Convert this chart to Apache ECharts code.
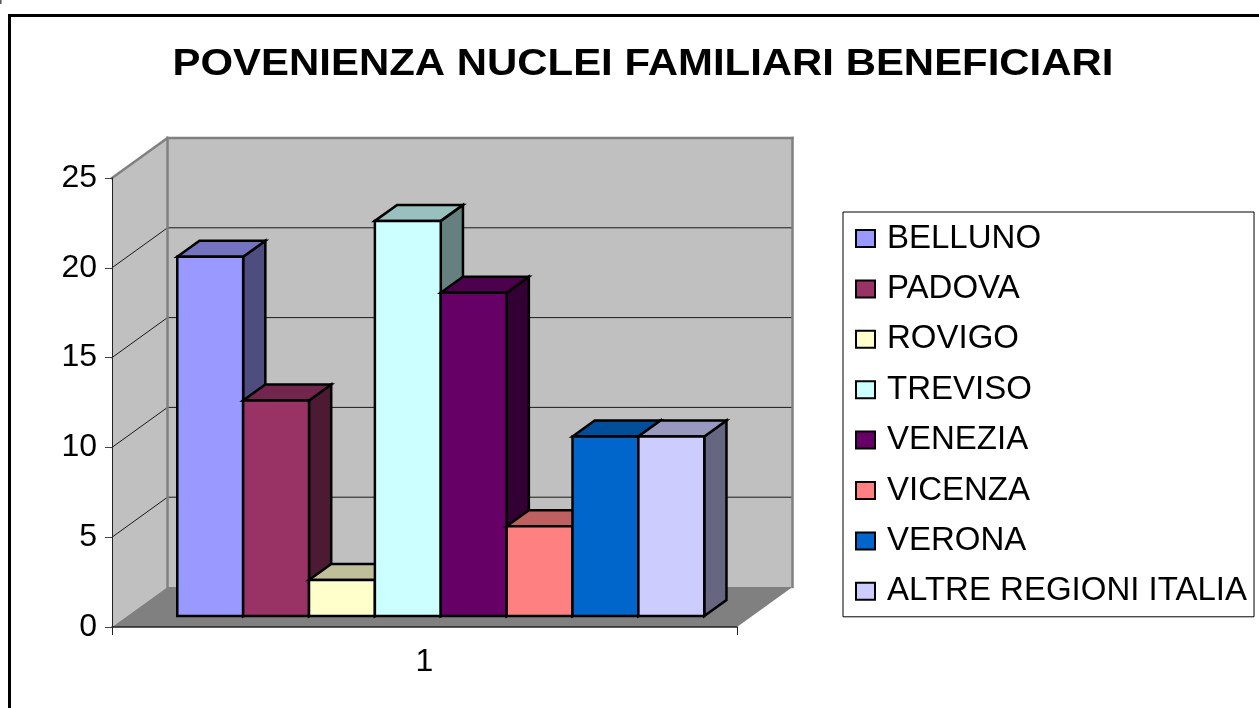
<!DOCTYPE html>
<html>
<head>
<meta charset="utf-8">
<style>html,body{margin:0;padding:0;background:#fff}#c{width:1259px;height:708px}</style>
<script src="https://cdn.jsdelivr.net/npm/echarts@6/dist/echarts.min.js"></script>
</head>
<body>
<div id="c"></div>
<script>
var titleText = 'POVENIENZA NUCLEI FAMILIARI BENEFICIARI';
var categories = ['1'];
var yTicks = [0, 5, 10, 15, 20, 25];
var seriesNames = ['BELLUNO', 'PADOVA', 'ROVIGO', 'TREVISO', 'VENEZIA', 'VICENZA', 'VERONA', 'ALTRE REGIONI ITALIA'];
var seriesValues = [20, 12, 2, 22, 18, 5, 10, 10];
var seriesColors = ['#9999FF', '#993366', '#FFFFCC', '#CCFFFF', '#660066', '#FF8080', '#0066CC', '#CCCCFF'];

var DEPTH_X = 55.5, DEPTH_Y = 40;
var FONT = '"Liberation Sans", Arial, sans-serif';
var BAR_START = 0.08, BAR_SLOT = 0.1054, BAR_D0 = 0.275, BAR_D1 = 0.675;

function shade(hex, f) {
  var n = parseInt(hex.slice(1), 16);
  var r = Math.round((n >> 16 & 255) * f), g = Math.round((n >> 8 & 255) * f), b = Math.round((n & 255) * f);
  return 'rgb(' + r + ',' + g + ',' + b + ')';
}
function projector(api) {
  var c = api.coord([0, 0]);
  var W = api.size([1, 0])[0];
  var left = c[0] - W / 2;
  return function (u, v, d) {
    return [left + u * W + d * DEPTH_X, api.coord([0, v])[1] - d * DEPTH_Y];
  };
}
function poly(points, fill, stroke, lw) {
  return { type: 'polygon', shape: { points: points },
    style: { fill: fill, stroke: stroke || null, lineWidth: lw || 0, lineJoin: 'miter' } };
}
function seg(a, b, color, lw) {
  return { type: 'line', shape: { x1: a[0], y1: a[1], x2: b[0], y2: b[1] },
    style: { stroke: color, lineWidth: lw, lineCap: 'square' } };
}
function renderWalls(params, api) {
  var p = projector(api), top = yTicks[yTicks.length - 1], kids = [];
  kids.push(poly([p(0, 0, 0), p(0, top, 0), p(0, top, 1), p(0, 0, 1)], '#C0C0C0'));
  kids.push(poly([p(0, 0, 1), p(0, top, 1), p(1, top, 1), p(1, 0, 1)], '#C0C0C0'));
  kids.push(poly([p(0, 0, 0), p(1, 0, 0), p(1, 0, 1), p(0, 0, 1)], '#808080'));
  yTicks.slice(1, -1).forEach(function (t) {
    kids.push(seg(p(0, t, 0), p(0, t, 1), '#1a1a1a', 1));
    kids.push(seg(p(0, t, 1), p(1, t, 1), '#1a1a1a', 1));
  });
  kids.push(seg(p(0, top, 0), p(0, top, 1), '#808080', 2.5));
  kids.push(seg(p(0, top, 1), p(1, top, 1), '#808080', 2.5));
  kids.push(seg(p(0, 0, 1), p(0, top, 1), '#808080', 2.5));
  kids.push(seg(p(1, 0, 1), p(1, top, 1), '#808080', 2.5));
  return { type: 'group', children: kids };
}
function barRenderer(i) {
  return function (params, api) {
    var p = projector(api), v = api.value(1), col = seriesColors[i];
    var u0 = BAR_START + i * BAR_SLOT, u1 = u0 + BAR_SLOT;
    return { type: 'group', children: [
      poly([p(u1, 0, BAR_D0), p(u1, 0, BAR_D1), p(u1, v, BAR_D1), p(u1, v, BAR_D0)], shade(col, 0.5), '#000', 2.5),
      poly([p(u0, v, BAR_D0), p(u0, v, BAR_D1), p(u1, v, BAR_D1), p(u1, v, BAR_D0)], shade(col, 0.75), '#000', 2.5),
      poly([p(u0, 0, BAR_D0), p(u1, 0, BAR_D0), p(u1, v, BAR_D0), p(u0, v, BAR_D0)], col, '#000', 2.5)
    ] };
  };
}
var series = [{
  type: 'custom', name: '__walls', silent: true, clip: false, z: 1,
  renderItem: renderWalls, data: [[0, 0]], encode: { x: 0, y: 1 }
}];
seriesNames.forEach(function (name, i) {
  series.push({
    type: 'custom', name: name, silent: true, clip: false, z: 2 + i,
    itemStyle: { color: seriesColors[i] },
    renderItem: barRenderer(i), data: [[0, seriesValues[i]]], encode: { x: 0, y: 1 }
  });
});

var chart = echarts.init(document.getElementById('c'), null, { renderer: 'canvas' });
chart.setOption({
  animation: false,
  backgroundColor: '#fff',
  grid: { left: 112, top: 178, width: 625, height: 449 },
  tooltip: { show: false },
  xAxis: { type: 'category', data: categories, z: 20,
    axisLine: { lineStyle: { color: '#222', width: 1.5 } },
    axisTick: { show: true, length: 8, lineStyle: { color: '#222' } },
    axisLabel: { fontFamily: FONT, fontSize: 32, color: '#000', margin: 19 },
    splitLine: { show: false } },
  yAxis: { type: 'value', min: 0, max: 25, interval: 5, z: 20,
    axisLine: { show: true, lineStyle: { color: '#222', width: 1 } },
    axisTick: { show: true, length: 7, lineStyle: { color: '#444' } },
    axisLabel: { fontFamily: FONT, fontSize: 32, color: '#000', margin: 15, padding: [4, 0, 0, 0] },
    splitLine: { show: false } },
  legend: {
    data: seriesNames, orient: 'vertical', left: 843, top: 212, height: 400,
    padding: [10, 7, 9, 12], itemWidth: 19, itemHeight: 17, itemGap: 17.4, selectedMode: false,
    icon: 'rect', borderColor: '#000', borderWidth: 1, backgroundColor: '#fff',
    itemStyle: { borderColor: '#000', borderWidth: 2 },
    textStyle: { fontFamily: FONT, fontSize: 33, color: '#000', padding: [0, 0, 0, 7] }
  },
  graphic: [
    { type: 'polyline', silent: true, shape: { points: [[9.5, 708], [9.5, 15.5], [1259, 15.5]] },
      style: { fill: null, stroke: '#000', lineWidth: 3 } },
    { type: 'rect', silent: true, shape: { x: 0, y: 0, width: 1.5, height: 4 }, style: { fill: '#555' } },
    { type: 'text', silent: true, x: 643, y: 65, scaleX: 1.133,
      style: { text: titleText, textAlign: 'center', textVerticalAlign: 'middle',
        font: 'bold 37px ' + FONT, fill: '#000' } }
  ],
  series: series
});
</script>
</body>
</html>
